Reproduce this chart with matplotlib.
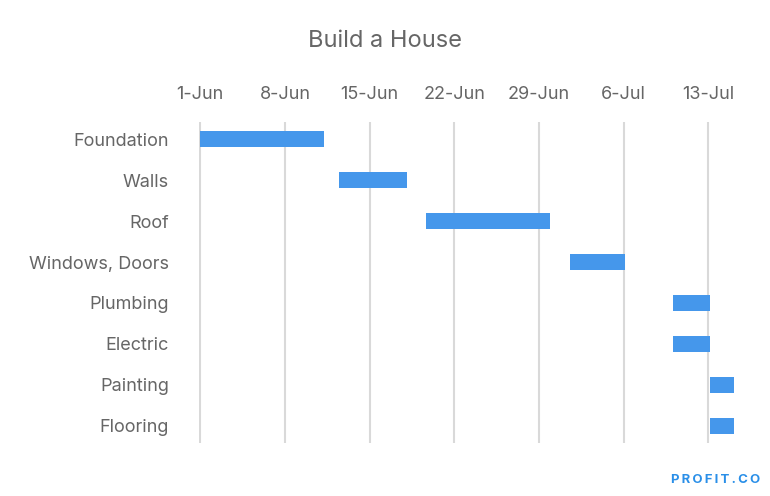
import matplotlib.pyplot as plt

# tasks, start (days after 1-Jun) and duration in days
tasks = ['Foundation', 'Walls', 'Roof', 'Windows, Doors', 'Plumbing',
         'Electric', 'Painting', 'Flooring']
start = [0, 11.5, 18.7, 30.6, 39.1, 39.1, 42.1, 42.1]
duration = [10.2, 5.6, 10.2, 4.5, 3.0, 3.0, 2.0, 2.0]

tick_days = [0, 7, 14, 21, 28, 35, 42]
tick_labels = ['1-Jun', '8-Jun', '15-Jun', '22-Jun', '29-Jun', '6-Jul', '13-Jul']

plt.rcParams['font.family'] = ['Inter', 'DejaVu Sans']
txt = '#666666'

fig = plt.figure(figsize=(7.7, 4.96), dpi=100)
ax = fig.add_axes([199 / 770, 1 - 443 / 496, 536 / 770, 321 / 496])

y = range(len(tasks))
ax.barh(y, duration, left=start, height=0.39, color='#4597eb', zorder=3)

ax.set_xlim(-0.1, 44.2)
ax.set_ylim(len(tasks) - 0.58, -0.42)
ax.set_xticks(tick_days)
ax.set_xticklabels(tick_labels)
ax.set_yticks(list(y))
ax.set_yticklabels(tasks)
ax.xaxis.tick_top()
ax.tick_params(axis='x', length=0, pad=14, labelsize=13, labelcolor=txt)
ax.tick_params(axis='y', length=0, pad=21.5, labelsize=13, labelcolor=txt)
ax.grid(axis='x', color='#d9d9d9', linewidth=1.5, zorder=0)
for s in ax.spines.values():
    s.set_visible(False)

fig.text(0.5, 1 - 41 / 496, 'Build a House', ha='center', va='center',
         fontsize=17, color=txt)
fig.text(760 / 770, 1 - 480 / 496, 'P\u2009R\u2009O\u2009F\u2009I\u2009T\u2009.\u2009C\u2009O',
         ha='right', va='center', fontsize=9.5, fontweight='bold', color='#2a8fe8')

fig.savefig('out.png', dpi=100, facecolor='white')
